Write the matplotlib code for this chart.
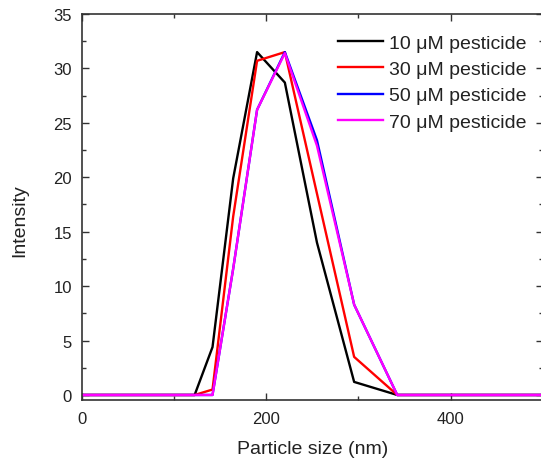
import matplotlib
matplotlib.use("Agg")
import matplotlib.pyplot as plt
from matplotlib.ticker import MultipleLocator

plt.rcParams['font.family'] = ['Liberation Sans', 'DejaVu Sans']

sizes = [0.4, 91.28, 105.7, 122.4, 141.8, 164.2, 190.1, 220.2, 255.0, 295.3, 342.0, 396.1, 458.7, 531.2]
int_10 = [0, 0, 0, 0, 4.4, 19.9, 31.5, 28.7, 14.0, 1.2, 0, 0, 0, 0]
int_30 = [0, 0, 0, 0, 0.5, 16.4, 30.7, 31.5, 18.5, 3.5, 0, 0, 0, 0]
int_50 = [0, 0, 0, 0, 0, 11.6, 26.2, 31.5, 23.4, 8.3, 0, 0, 0, 0]
int_70 = [0, 0, 0, 0, 0, 11.6, 26.2, 31.4, 22.9, 8.3, 0, 0, 0, 0]
labels = ['10 \u03bcM pesticide', '30 \u03bcM pesticide', '50 \u03bcM pesticide', '70 \u03bcM pesticide']
colors = ['#000000', '#ff0000', '#0000ff', '#ff00ff']

fig = plt.figure(figsize=(5.41, 4.64), dpi=100)
ax = fig.add_axes([0.151, 0.1358, 0.8527, 0.8319])

for y, lab, c in zip([int_10, int_30, int_50, int_70], labels, colors):
    ax.plot(sizes, y, color=c, lw=1.7, label=lab)

ax.set_xlim(0, 500)
ax.set_ylim(-0.46, 35)
ax.xaxis.set_major_locator(MultipleLocator(200))
ax.xaxis.set_minor_locator(MultipleLocator(100))
ax.yaxis.set_major_locator(MultipleLocator(5))
ax.yaxis.set_minor_locator(MultipleLocator(2.5))
ax.tick_params(which='both', direction='in', top=True, right=True, width=1.0, color='#333333')
ax.tick_params(which='major', length=5)
ax.tick_params(which='minor', length=3)
ax.tick_params(axis='x', which='major', pad=8, labelsize=12, labelcolor='#222222')
ax.tick_params(axis='y', which='major', pad=7, labelsize=12, labelcolor='#222222')
for s in ax.spines.values():
    s.set_linewidth(1.2)
    s.set_color('#333333')

ax.set_xlabel('Particle size (nm)', fontsize=14, color='#222222', labelpad=10)
ax.set_ylabel('Intensity', fontsize=14, color='#222222')
ax.yaxis.set_label_coords(-0.115, 0.466)

leg = ax.legend(loc='upper left', bbox_to_anchor=(0.5556, 0.948), frameon=False,
                fontsize=14, handlelength=2.31, handletextpad=0.33,
                labelspacing=0.45, borderpad=0, borderaxespad=0)
for t in leg.get_texts():
    t.set_color('#222222')

fig.savefig('out.png', dpi=100)
